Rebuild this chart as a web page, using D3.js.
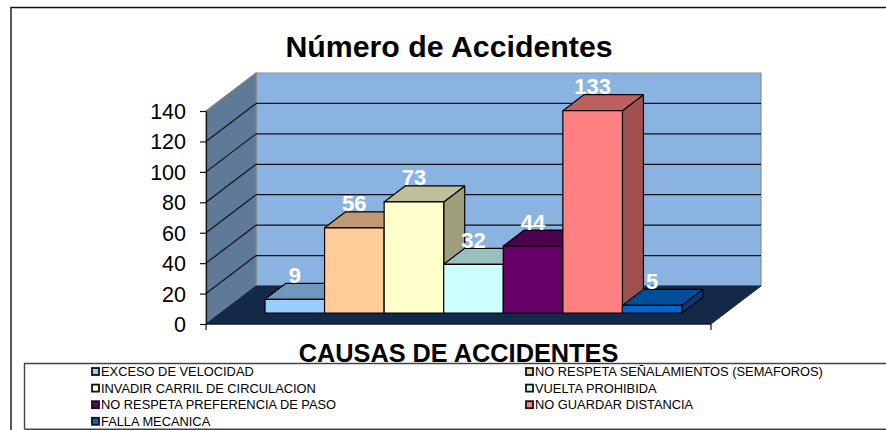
<!DOCTYPE html>
<html><head><meta charset="utf-8">
<script src="https://cdn.jsdelivr.net/npm/d3@7/dist/d3.min.js"></script>
<style>html,body{margin:0;padding:0;background:#fff}svg{display:block}text{font-family:"Liberation Sans",Arial,sans-serif}</style>
</head><body><svg id="c" width="886" height="430"></svg>
<script>
const categories=["EXCESO DE VELOCIDAD","NO RESPETA SEÑALAMIENTOS (SEMAFOROS)","INVADIR CARRIL DE CIRCULACION","VUELTA PROHIBIDA","NO RESPETA PREFERENCIA DE PASO","NO GUARDAR DISTANCIA","FALLA MECANICA"];
const values=[9,56,73,32,44,133,5];
const frontColors=["#99CCFF","#FFCC99","#FFFFCC","#CCFFFF","#660066","#FF8080","#0066CC"];
const topColors=["#7098BC","#BF9972","#BFBF99","#99BFBF","#4D004D","#BF6060","#004D99"];
const sideColors=["#5C7A99","#99795C","#9F9F7E","#7A9999","#3D003D","#9F5050","#003D7A"];
const yTicks=[0,20,40,60,80,100,120,140];
const title="Número de Accidentes";
const xTitle="CAUSAS DE ACCIDENTES";

const svg=d3.select("#c");
const y=d3.scaleLinear().domain([0,140]).range([324,111]);
const x=d3.scaleBand().domain(categories).range([265,682]);
const fx0=206,fx1=711,wdx=50,wdy=-38;   // plot box: front edge, wall offset
const bdx=21,bdy=-16,bLift=-11;         // bar depth and base offset
const poly=(pts,fill,stroke,sw)=>svg.append("polygon").attr("points",pts.map(p=>p.join(",")).join(" ")).attr("fill",fill).attr("stroke",stroke||"none").attr("stroke-width",sw||0).attr("stroke-linejoin","round");
const line=(a,b,c,sw)=>svg.append("line").attr("x1",a[0]).attr("y1",a[1]).attr("x2",b[0]).attr("y2",b[1]).attr("stroke",c).attr("stroke-width",sw);

// frame
svg.append("path").attr("d","M11,430V7.5H886").attr("fill","none").attr("stroke","#111").attr("stroke-width",1.4);

svg.append("text").attr("x",449).attr("y",57).attr("text-anchor","middle").attr("font-size",30.3).attr("font-weight","bold").attr("fill","#000").text(title);

// walls
poly([[fx0+wdx,y(0)+wdy],[fx1+wdx,y(0)+wdy],[fx1+wdx,y(140)+wdy],[fx0+wdx,y(140)+wdy]],"#8BB3E2","#8c8c8c",1.2);
poly([[fx0,y(0)],[fx0+wdx,y(0)+wdy],[fx0+wdx,y(140)+wdy],[fx0,y(140)]],"#5F7A99","#808080",1.2);
poly([[fx0,y(0)],[fx1,y(0)],[fx1+wdx,y(0)+wdy],[fx0+wdx,y(0)+wdy]],"#122A47","#122A47",1);
yTicks.slice(1,-1).forEach(t=>{
  line([fx0,y(t)],[fx0+wdx,y(t)+wdy],"#111",1.2);
  line([fx0+wdx,y(t)+wdy],[fx1+wdx,y(t)+wdy],"#111",1.2);
});
line([fx0,y(0)],[fx1,y(0)],"#111",1.2);

// axis
const axis=d3.axisLeft(y).tickValues(yTicks).tickSize(6).tickSizeOuter(0);
const ag=svg.append("g").attr("transform",`translate(${fx0},0)`).call(axis);
ag.selectAll("path,line").attr("stroke","#111").attr("stroke-width",1.2);
ag.selectAll("text").attr("font-size",21.5).attr("fill","#000").attr("x",-20).attr("dy","0.35em").style("font-family",'"Liberation Sans",Arial,sans-serif');
line([fx0,y(0)],[fx0,y(0)+6],"#111",1.2);
line([fx1,y(0)],[fx1,y(0)+6],"#111",1.2);

// bars
categories.forEach((c,i)=>{
  const l=x(c),r=l+x.bandwidth(),b=y(0)+bLift,t=y(values[i])+bLift;
  poly([[r,b],[r+bdx,b+bdy],[r+bdx,t+bdy],[r,t]],sideColors[i],"#000",1.2);
  poly([[l,t],[r,t],[r+bdx,t+bdy],[l+bdx,t+bdy]],topColors[i],"#000",1.2);
  poly([[l,b],[r,b],[r,t],[l,t]],frontColors[i],"#000",1.2);
});
categories.forEach((c,i)=>{
  const t=y(values[i])+bLift;
  svg.append("text").attr("x",x(c)+x.bandwidth()/2).attr("y",t+bdy-0.5).attr("text-anchor","middle")
    .attr("font-size",22).attr("font-weight","bold").attr("fill","#fff").text(values[i]);
});

// axis title
svg.append("text").attr("x",458.5).attr("y",362).attr("text-anchor","middle").attr("font-size",25.3).attr("font-weight","bold").attr("fill","#000").text(xTitle);

// legend
svg.append("path").attr("d","M24.5,429V363.5H886M24.5,429.3H886").attr("fill","none").attr("stroke","#444").attr("stroke-width",1.4);
categories.forEach((c,i)=>{
  const col=i%2,row=Math.floor(i/2);
  const lx=col?525:91, ly=371.5+row*16.6;
  svg.append("rect").attr("x",lx+1).attr("y",ly-3.5).attr("width",7).attr("height",7).attr("fill",frontColors[i]).attr("stroke","#111").attr("stroke-width",1.8);
  svg.append("text").attr("x",lx+10).attr("y",ly+4.5).attr("font-size",12.85).attr("fill","#000").text(c);
});
</script></body></html>
